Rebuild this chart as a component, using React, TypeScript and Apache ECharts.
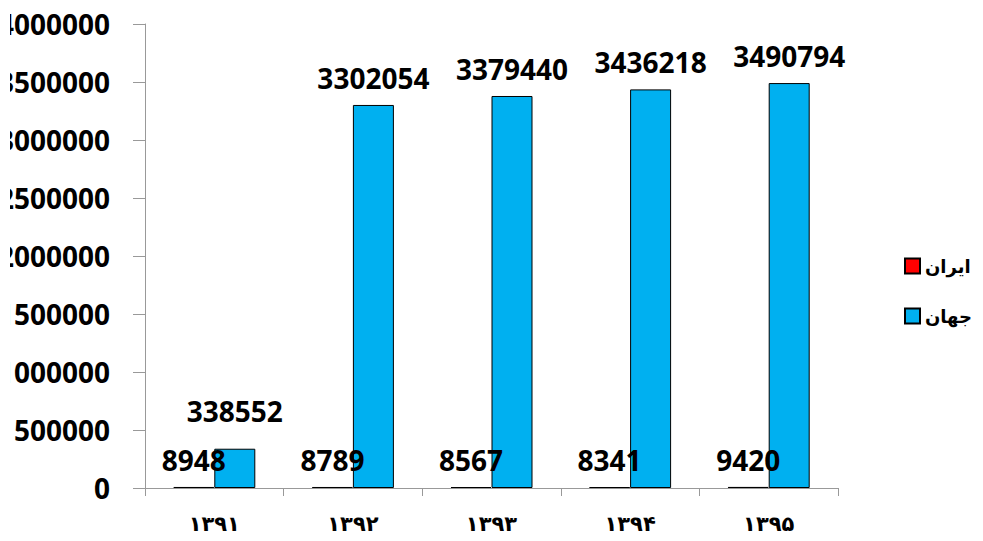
import React, { useEffect, useRef } from "react";
import * as echarts from "echarts";

const categories = ["۱۳۹۱", "۱۳۹۲", "۱۳۹۳", "۱۳۹۴", "۱۳۹۵"];
const seriesNames = ["ایران", "جهان"];
const iranValues = [8948, 8789, 8567, 8341, 9420];
const worldValues = [338552, 3302054, 3379440, 3436218, 3490794];
const yMin = 0;
const yMax = 4000000;
const yInterval = 500000;

export default function App() {
  const ref = useRef<HTMLDivElement>(null);
  useEffect(() => {
    if (!ref.current) return;
    const chart = echarts.init(ref.current, undefined, { renderer: "svg" });
    const labelStyle = {
      show: true,
      position: "top" as const,
      distance: 13,
      fontSize: 28,
      fontWeight: "bold" as const,
      fontFamily: "Open Sans",
      color: "#000",
    };
    chart.setOption({
      animation: false,
      backgroundColor: "#fff",
      grid: {
        left: 145,
        right: 145,
        top: 24,
        bottom: 53,
        containLabel: false,
        outerBoundsMode: "none",
      },
      graphic: [
        {
          type: "rect",
          left: 0,
          top: 0,
          z: 100,
          shape: { width: 10, height: 460 },
          style: { fill: "#fff" },
          silent: true,
        },
      ],
      legend: {
        orient: "vertical",
        left: 899,
        top: 252,
        itemWidth: 15,
        itemHeight: 15,
        itemGap: 32,
        icon: "rect",
        textStyle: {
          fontSize: 18,
          fontWeight: "bold",
          fontFamily: "DejaVu Sans",
          color: "#000",
        },
        data: seriesNames,
      },
      xAxis: {
        type: "category",
        data: categories,
        axisLine: { lineStyle: { color: "#999", width: 1 } },
        axisTick: { show: true, length: 8, alignWithLabel: false, lineStyle: { color: "#999" } },
        axisLabel: {
          fontSize: 21,
          fontWeight: "bold",
          fontFamily: "DejaVu Sans",
          color: "#000",
          margin: 25,
        },
        splitLine: { show: false },
      },
      yAxis: {
        type: "value",
        min: yMin,
        max: yMax,
        interval: yInterval,
        axisLine: { show: true, lineStyle: { color: "#999", width: 1 } },
        axisTick: { show: true, length: 12, lineStyle: { color: "#999" } },
        axisLabel: {
          fontSize: 28,
          fontWeight: "bold",
          fontFamily: "Open Sans",
          color: "#000",
          margin: 35,
          formatter: (v: number) => String(v),
        },
        splitLine: { show: false },
      },
      series: [
        {
          name: seriesNames[0],
          type: "bar",
          barWidth: 41,
          barGap: "0%",
          data: iranValues,
          itemStyle: { color: "#ff0000", borderColor: "#000", borderWidth: 1 },
          label: labelStyle,
          z: 3,
        },
        {
          name: seriesNames[1],
          type: "bar",
          barWidth: 41,
          barGap: "0%",
          data: worldValues.map((v, i) =>
            i === 0 ? { value: v, label: { distance: 24 } } : v
          ),
          itemStyle: { color: "#00b0f0", borderColor: "#000", borderWidth: 1 },
          label: labelStyle,
          z: 2,
        },
      ],
    });
    return () => chart.dispose();
  }, []);
  return (
    <div
      ref={ref}
      style={{ position: "fixed", left: 0, top: 0, width: 983, height: 541 }}
    />
  );
}
